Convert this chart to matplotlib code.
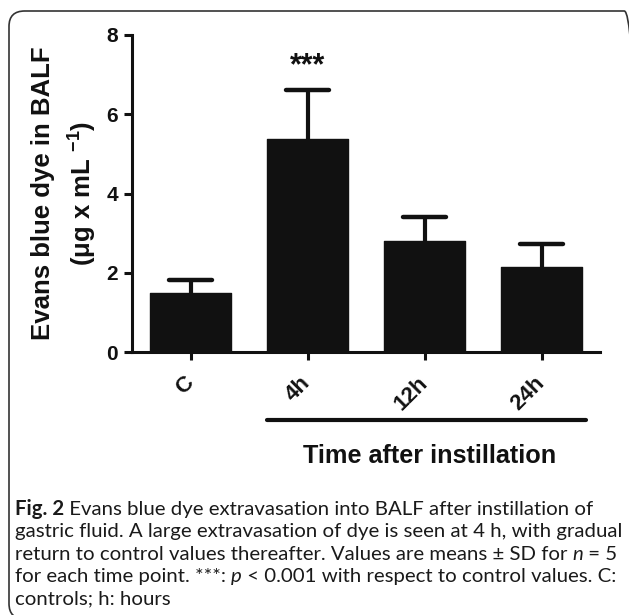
import matplotlib
matplotlib.use("Agg")
import matplotlib.pyplot as plt
from matplotlib.patches import FancyBboxPatch
from matplotlib.transforms import blended_transform_factory
import numpy as np

# ── Data ───────────────────────────────────────────────────────────────────────
groups = ["C", "4h", "12h", "24h"]
means = [1.48, 5.38, 2.79, 2.14]
sds = [0.34, 1.24, 0.61, 0.59]
y_ticks = [0, 2, 4, 6, 8]
signif = {1: "***"}

caption_lines = [
    [("Fig. 2", "bold", "normal"),
     (" Evans blue dye extravasation into BALF after instillation of", "normal", "normal")],
    [("gastric fluid. A large extravasation of dye is seen at 4 h, with gradual", "normal", "normal")],
    [("return to control values thereafter. Values are means ± SD for ", "normal", "normal"),
     ("n", "normal", "italic"), (" = 5", "normal", "normal")],
    [("for each time point. ***: ", "normal", "normal"), ("p", "normal", "italic"),
     (" < 0.001 with respect to control values. C:", "normal", "normal")],
    [("controls; h: hours", "normal", "normal")],
]

# ── Style ──────────────────────────────────────────────────────────────────────
plt.rcParams["font.family"] = ["Liberation Sans", "DejaVu Sans"]
plt.rcParams["font.weight"] = "bold"
plt.rcParams["mathtext.fontset"] = "custom"
plt.rcParams["mathtext.rm"] = "Liberation Sans:bold"
plt.rcParams["mathtext.bf"] = "Liberation Sans:bold"
plt.rcParams["mathtext.it"] = "Liberation Sans:bold:italic"

W, H = 629, 615
BAR_COLOR = "#111111"
CAP_FONT = ["Lato", "DejaVu Sans"]

fig = plt.figure(figsize=(W / 100, H / 100), dpi=100)
ax = fig.add_axes([132 / W, 1 - 352 / H, (600 - 132) / W, (352 - 35) / H])

x = np.arange(len(groups))
width = 0.70
upper = np.array(means) + np.array(sds)
ax.bar(x, means, width=width, color=BAR_COLOR, edgecolor=BAR_COLOR,
       linewidth=1, joinstyle="round", zorder=2)
# upward-only SD bars
ax.vlines(x, means, upper, colors=BAR_COLOR, lw=3, zorder=3)
ax.hlines(upper, x - 0.18, x + 0.18, colors=BAR_COLOR, lw=3.2, zorder=3,
          capstyle="round")

for i, s in signif.items():
    ax.text(i, upper[i] + 0.6, s, ha="center", va="center",
            fontsize=22, fontweight="bold", color=BAR_COLOR)

ax.set_xlim(-0.5, 3.5)
ax.set_ylim(0, 8)
ax.set_yticks(y_ticks)
ax.set_yticklabels([str(t) for t in y_ticks])
ax.set_xticks(x)
ax.set_xticklabels(groups, rotation=45, ha="right", va="center",
                   rotation_mode="anchor")

for side in ["top", "right"]:
    ax.spines[side].set_visible(False)
for side in ["left", "bottom"]:
    ax.spines[side].set_linewidth(2.2)
    ax.spines[side].set_color(BAR_COLOR)
ax.tick_params(axis="both", direction="out", length=6, width=2.2,
               colors=BAR_COLOR, labelsize=15)
ax.tick_params(axis="y", pad=4)
ax.tick_params(axis="x", pad=14, labelsize=16)

# group line under the timepoints
trans = blended_transform_factory(ax.transData, ax.transAxes)
ax.plot([1 - width / 2, 3 + width / 2 + 0.03], [-0.215, -0.215], color=BAR_COLOR,
        lw=3, solid_capstyle="round", transform=trans, clip_on=False)

# axis titles
fig.text(43 / W, 1 - 193 / H, "Evans blue dye in BALF", rotation=90,
         ha="center", va="center", fontsize=18.5, fontweight="bold", color=BAR_COLOR)
fig.text(83 / W, 1 - 193 / H, r"(μg x mL $^{-1}$)", rotation=90,
         ha="center", va="center", fontsize=18.5, fontweight="bold", color=BAR_COLOR)
fig.text(430 / W, 1 - 456 / H, "Time after instillation", ha="center", va="center",
         fontsize=18.2, fontweight="bold", color=BAR_COLOR)

# ── Caption ────────────────────────────────────────────────────────────────────
renderer = fig.canvas.get_renderer()
probe = fig.text(0, 0, caption_lines[1][0][0], fontsize=10, family=CAP_FONT,
                 fontweight="normal")
cap_size = 10 * 606 / probe.get_window_extent(renderer).width
probe.remove()

for k, line in enumerate(caption_lines):
    xpos = 15
    ybase = 515 + 22.4 * k
    for s, wgt, sty in line:
        t = fig.text(xpos / W, 1 - ybase / H, s, fontsize=cap_size, family=CAP_FONT,
                     fontweight=wgt, fontstyle=sty, va="baseline", ha="left",
                     color="#1a1a1a")
        xpos += t.get_window_extent(renderer).width

# ── Rounded frame ──────────────────────────────────────────────────────────────
frame = FancyBboxPatch((9 / W, -4 / H), (640 - 9) / W, (615 + 4 - 11) / H,
                       boxstyle="round,pad=0,rounding_size=0.025",
                       transform=fig.transFigure, fill=False, edgecolor="#333333",
                       linewidth=1.2, clip_on=False)
fig.patches.append(frame)

fig.savefig("out.png", dpi=100)
